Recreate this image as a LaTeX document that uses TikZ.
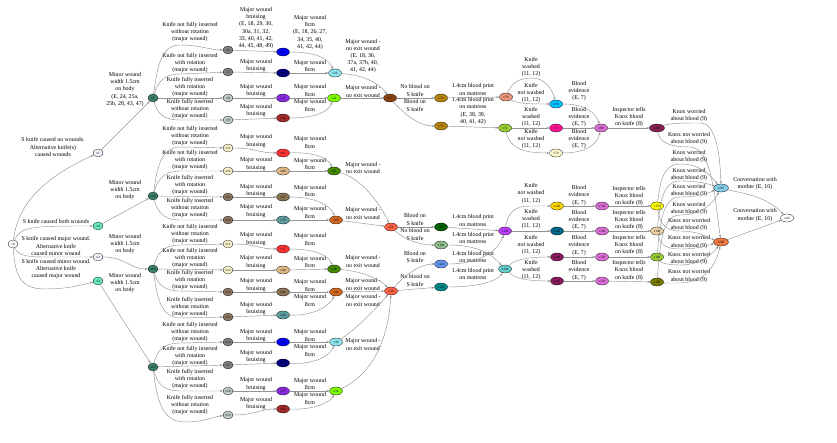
\documentclass[tikz,border=0pt]{standalone}
\usepackage{fontspec}
\setmainfont{Liberation Serif}
\usetikzlibrary{shapes.geometric,arrows.meta}
\newcommand{\lbf}{\fontsize{5.9}{7.2}\selectfont}
\newcommand{\nfs}{\fontsize{3.4}{3.4}\selectfont}
\definecolor{eg}{HTML}{939393}
\definecolor{cAlice}{HTML}{EEF2FA}
\definecolor{cAqua}{HTML}{66E8B8}
\definecolor{cSea}{HTML}{3B8266}
\definecolor{cGray}{HTML}{808080}
\definecolor{cLGray}{HTML}{C0C8C8}
\definecolor{cCream}{HTML}{F5F0C8}
\definecolor{cBrG}{HTML}{8B7660}
\definecolor{cBlue}{HTML}{0000FF}
\definecolor{cNavy}{HTML}{000080}
\definecolor{cBViolet}{HTML}{8A2BE2}
\definecolor{cBrown}{HTML}{A52A2A}
\definecolor{cRed}{HTML}{FF3333}
\definecolor{cTan}{HTML}{DEB887}
\definecolor{cBurl}{HTML}{8B7355}
\definecolor{cCadet}{HTML}{5F9EA0}
\definecolor{cCyan}{HTML}{8EE5EE}
\definecolor{cLime}{HTML}{7FFF00}
\definecolor{cDkGreen}{HTML}{458B00}
\definecolor{cChoc}{HTML}{D2691E}
\definecolor{cSaddle}{HTML}{8B4513}
\definecolor{cTomato}{HTML}{FF6347}
\definecolor{cGoldenrod}{HTML}{B8860B}
\definecolor{cDarkGreen}{HTML}{006400}
\definecolor{cDSG}{HTML}{8FBC8F}
\definecolor{cCorn}{HTML}{6495ED}
\definecolor{cTeal}{HTML}{008B8B}
\definecolor{cDSalmon}{HTML}{E9967A}
\definecolor{cYG}{HTML}{9ACD32}
\definecolor{cPurp}{HTML}{BF3EFF}
\definecolor{cMTurq}{HTML}{66CDCC}
\definecolor{cDSky}{HTML}{00BFFF}
\definecolor{cDPink}{HTML}{FF1493}
\definecolor{cLemon}{HTML}{FFFACD}
\definecolor{cGold}{HTML}{FFD700}
\definecolor{cDSB}{HTML}{00688B}
\definecolor{cMaroon}{HTML}{8B1C62}
\definecolor{cOrchid}{HTML}{DA70D6}
\definecolor{cVRed}{HTML}{8B2252}
\definecolor{cYellow}{HTML}{FFFF00}
\definecolor{cWheat}{HTML}{EBD3A5}
\definecolor{cOlive}{HTML}{7A7A00}
\definecolor{cSky}{HTML}{87CEEB}
\definecolor{cCoral}{HTML}{F47A42}
\begin{document}
\begin{tikzpicture}[x=1pt,y=-1pt,
  vn/.style={ellipse,draw=black,line width=0.3pt,minimum width=10pt,minimum height=8pt,inner sep=0pt,font=\nfs},
  vw/.style={vn,minimum width=13pt},
  lb/.style={align=center,inner sep=0pt,font=\lbf},
  e/.style={draw=eg,line width=0.45pt,-{Stealth[length=3pt,width=2.2pt]}}]
\useasboundingbox (0,0) rectangle (837,443);
% ---------- nodes ----------
\node[vn,fill=white] (v0) at (13,244) {v0};
\node[vn,fill=cAlice] (v1) at (98,153) {v1};
\node[vn,fill=cAqua] (v4) at (98,226) {v4};
\node[vn,fill=cAlice] (v2) at (98,257) {v2};
\node[vn,fill=cAqua] (v3) at (98,281) {v3};
\node[vn,fill=cSea] (v5) at (153,98) {v5};
\node[vn,fill=cSea] (v20) at (153,196) {v20};
\node[vn,fill=cSea] (v10) at (153,269) {v10};
\node[vn,fill=cSea] (v15) at (153,367) {v15};
% second column
\node[vn,fill=cGray] (v6) at (228,50) {v6};
\node[vn,fill=cGray] (v7) at (228,72) {v7};
\node[vn,fill=cLGray] (v8) at (228,98) {v8};
\node[vn,fill=cLGray] (v9) at (228,120) {v9};
\node[vn,fill=cCream] (v21) at (228,148) {v21};
\node[vn,fill=cCream] (v22) at (228,171) {v22};
\node[vn,fill=cBrG] (v23) at (228,197) {v23};
\node[vn,fill=cBrG] (v24) at (228,220) {v24};
\node[vn,fill=cCream] (v11) at (228,244) {v11};
\node[vn,fill=cCream] (v12) at (228,270) {v12};
\node[vn,fill=cBrG] (v13) at (228,292) {v13};
\node[vn,fill=cBrG] (v14) at (228,317) {v14};
\node[vn,fill=cGray] (v16) at (228,342) {v16};
\node[vn,fill=cGray] (v17) at (228,365) {v17};
\node[vn,fill=cLGray] (v18) at (228,391) {v18};
\node[vn,fill=cLGray] (v19) at (228,415) {v19};
% bruising column
\node[vw,fill=cBlue] (b1) at (283,52) {v25};
\node[vw,fill=cNavy] (b2) at (283,73) {v29};
\node[vw,fill=cBViolet] (b3) at (283,98) {v31};
\node[vw,fill=cBrown] (b4) at (283,118) {v34};
\node[vw,fill=cRed] (b5) at (283,153) {v61};
\node[vw,fill=cTan] (b6) at (283,171) {v68};
\node[vw,fill=cBurl] (b7) at (283,197) {v67};
\node[vw,fill=cCadet] (b8) at (283,220) {v70};
\node[vw,fill=cRed] (b9) at (283,249) {v37};
\node[vw,fill=cTan] (b10) at (283,270) {v40};
\node[vw,fill=cBurl] (b11) at (283,292) {v43};
\node[vw,fill=cCadet] (b12) at (283,315) {v46};
\node[vw,fill=cBlue] (b13) at (283,342) {v47};
\node[vw,fill=cNavy] (b14) at (283,363) {v50};
\node[vw,fill=cBViolet] (b15) at (283,391) {v55};
\node[vw,fill=cBrown] (b16) at (283,409) {v58};
% 8cm column
\node[vw,fill=cCyan] (c1) at (335,73) {v26};
\node[vw,fill=cLime] (c2) at (334,98) {v32};
\node[vw,fill=cDkGreen] (c3) at (334,171) {v62};
\node[vw,fill=cChoc] (c4) at (336,220) {v69};
\node[vw,fill=cDkGreen] (c5) at (334,269) {v38};
\node[vw,fill=cChoc] (c6) at (336,292) {v44};
\node[vw,fill=cCyan] (c7) at (336,342) {v30};
\node[vw,fill=cLime] (c8) at (336,391) {v36};
% no-exit column
\node[vw,fill=cSaddle] (d1) at (390,98) {v27};
\node[vw,fill=cTomato] (d2) at (391,227) {v63};
\node[vw,fill=cTomato] (d3) at (391,291) {v39};
% blood column
\node[vw,fill=cGoldenrod] (g1) at (441,98) {v74};
\node[vw,fill=cGoldenrod] (g2) at (441,126) {v73};
\node[vw,fill=cDarkGreen] (g3) at (441,227) {v117};
\node[vw,fill=cDSG] (g4) at (441,245) {v118};
\node[vw,fill=cCorn] (g5) at (441,264) {v121};
\node[vw,fill=cTeal] (g6) at (441,287) {v122};
% mattress column
\node[vw,fill=cDSalmon] (m1) at (506,97) {v76};
\node[vw,fill=cYG] (m2) at (505,128) {v71};
\node[vw,fill=cPurp] (m3) at (505,231) {v123};
\node[vw,fill=cMTurq] (m4) at (505,269) {v124};
% washed column
\node[vw,fill=cDSky] (w1) at (556,104) {v78};
\node[vw,fill=cDPink] (w2) at (556,128) {v77};
\node[vw,fill=cLemon] (w3) at (556,153) {v79};
\node[vw,fill=cGold] (w4) at (557,206) {v126};
\node[vw,fill=cDSB] (w5) at (557,231) {v125};
\node[vw,fill=cMaroon] (w6) at (557,257) {v128};
\node[vw,fill=cMaroon] (w7) at (557,281) {v127};
% evidence column
\node[vw,fill=cOrchid] (x1) at (601,128) {v80};
\node[vw,fill=cOrchid] (x2) at (602,206) {v130};
\node[vw,fill=cOrchid] (x3) at (602,231) {v129};
\node[vw,fill=cOrchid] (x4) at (602,257) {v132};
\node[vw,fill=cOrchid] (x5) at (602,281) {v131};
% inspector column
\node[vw,fill=cVRed,minimum width=15pt] (i1) at (657,128) {v266};
\node[vw,fill=cYellow] (i2) at (657,206) {v151};
\node[vw,fill=cWheat] (i3) at (657,231) {v148};
\node[vw,fill=cYG] (i4) at (657,257) {v160};
\node[vw,fill=cOlive] (i5) at (657,282) {v156};
% final
\node[vw,fill=cSky,minimum width=15pt] (k1) at (721,188) {v267};
\node[vw,fill=cCoral,minimum width=15pt] (k2) at (721,242) {v268};
\node[vw,fill=white] (vinf) at (787,218) {vinf};
% ---------- labels ----------
\node[lb] (l01) at (53,147) {S knife caused no wounds.\\Alternative knife(s)\\caused wounds};
\node[lb] (l04) at (56,221) {S knife caused both wounds};
\node[lb] (l02) at (56,246) {S knife caused major wound.\\Alternative knife\\caused minor wound};
\node[lb] (l03) at (56,269) {S knife caused minor wound.\\Alternative knife\\caused major wound};
\node[lb] (l15) at (125,89.5) {Minor wound\\width 1.5cm\\on body\\(E, 24, 25a,\\25b, 28, 43, 47)};
\node[lb] (l420) at (125,190) {Minor wound\\width 1.5cm\\on body};
\node[lb] (l210) at (125,244) {Minor wound\\width 1.5cm\\on body};
\node[lb] (l315) at (125,283) {Minor wound\\width 1.5cm\\on body};
% fan labels
\foreach \yy/\tt [count=\i] in {32/Knife not fully inserted\\without rotation\\(major wound),63/Knife not fully inserted\\with rotation\\(major wound),87/Knife fully inserted\\with rotation\\(major wound),109/Knife fully inserted\\without rotation\\(major wound),
136/Knife not fully inserted\\without rotation\\(major wound),160/Knife not fully inserted\\with rotation\\(major wound),185/Knife fully inserted\\with rotation\\(major wound),208/Knife fully inserted\\without rotation\\(major wound),
234/Knife not fully inserted\\without rotation\\(major wound),258/Knife not fully inserted\\with rotation\\(major wound),280/Knife fully inserted\\with rotation\\(major wound),307/Knife fully inserted\\without rotation\\(major wound),
332/Knife not fully inserted\\without rotation\\(major wound),356/Knife not fully inserted\\with rotation\\(major wound),379/Knife fully inserted\\with rotation\\(major wound),405/Knife fully inserted\\without rotation\\(major wound)}
  \node[lb] (lf\i) at (190,\yy) {\tt};
% bruising labels
\node[lb] (lb1) at (256,28) {Major wound\\bruising\\(E, 18, 29, 30,\\30a, 31, 32,\\33, 40, 41, 42,\\44, 45, 48, 49)};
\foreach \yy [count=\i from 2] in {65.5,90.5,110.5,141,164,190.5,211,239,262,285,308.5,335.5,356.5,384,403.5}
  \node[lb] (lb\i) at (256,\yy) {Major wound\\bruising};
% 8cm labels
\node[lb] (lc1) at (310,32.5) {Major wound\\8cm\\(E, 18, 26, 27,\\34, 35, 40,\\41, 42, 44)};
\foreach \yy [count=\i from 2] in {66,90.5,105.5,142.5,164,191,212.5,239.5,262,285.5,300.5,335.5,350.5,384,398.5}
  \node[lb] (lc\i) at (310,\yy) {Major wound\\8cm};
% no exit labels
\node[lb] (ld1) at (363,56) {Major wound -\\no exit wound\\(E, 18, 36,\\37a, 37b, 40,\\41, 42, 44)};
\foreach \yy [count=\i from 2] in {91.5,168,213.5,261.5,284.5,300.5,344.5}
  \node[lb] (ld\i) at (363,\yy) {Major wound -\\no exit wound};
% blood labels
\node[lb] (lg1) at (415,90.5) {No blood on\\S knife};
\node[lb] (lg2) at (415,105.5) {Blood on\\S knife};
\node[lb] (lg3) at (415,219.5) {Blood on\\S knife};
\node[lb] (lg4) at (415,234.5) {No blood on\\S knife};
\node[lb] (lg5) at (415,257) {Blood on\\S knife};
\node[lb] (lg6) at (415,280.5) {No blood on\\S knife};
% mattress labels
\node[lb] (lm1) at (473,89.5) {1.4cm blood print\\on mattress};
\node[lb] (lm2) at (473,111) {1.4cm blood print\\on mattress\\(E, 38, 39,\\40, 41, 42)};
\foreach \yy [count=\i from 3] in {220.5,238,257,274}
  \node[lb] (lm\i) at (473,\yy) {1.4cm blood print\\on mattress};
% washed labels
\foreach \yy/\tt [count=\i] in {67/washed,93/not washed,117/washed,139/not washed,193.5/not washed,219/washed,245/not washed,270/washed}
  \node[lb] (lw\i) at (531,\yy) {Knife\\\tt\\(11, 12)};
% evidence labels
\foreach \yy [count=\i] in {91,117,139,195.5,220,245.5,270.5}
  \node[lb] (lx\i) at (579,\yy) {Blood\\evidence\\(E, 7)};
% inspector labels
\foreach \yy [count=\i] in {117,196,220,245,270.5}
  \node[lb] (li\i) at (629,\yy) {Inspector tells\\Knox blood\\on knife (8)};
% knox labels
\foreach \yy/\tt [count=\i] in {115.5/worried,138.5/not worried,156.5/worried,174.5/worried,190.5/worried,208.5/worried,224.5/not worried,242/not worried,258.5/not worried,276/not worried}
  \node[lb] (lk\i) at (689,\yy) {Knox \tt\\about blood (9)};
\node[lb] (lv1) at (755,183.5) {Conversation with\\mother (E, 10)};
\node[lb] (lv2) at (755,215) {Conversation with\\mother (E, 10)};
% ---------- edges ----------
\draw[e] (v0) .. controls (18,200) and (50,175) .. (v1);
\draw[e] (v0) .. controls (20,226) and (35,226) .. (v4);
\draw[e] (v0) .. controls (18,255) and (25,257) .. (45,257) -- (v2);
\draw[e] (v0) .. controls (15,275) and (20,289) .. (45,289) .. controls (70,289) and (85,284) .. (v3);
\draw[e] (v1) -- (v5);
\draw[e] (v4) -- (v20);
\draw[e] (v2) .. controls (125,257) and (130,269) .. (v10);
\draw[e] (v3) -- (v15);
% fans
\draw[e] (v5) .. controls (157,70) and (160,45) .. (180,45) .. controls (200,45) and (210,50) .. (v6);
\draw[e] (v5) .. controls (157,85) and (162,74) .. (180,74) -- (v7);
\draw[e] (v5) -- (v8);
\draw[e] (v5) .. controls (157,112) and (162,120) .. (180,120) -- (v9);
\draw[e] (v20) .. controls (157,170) and (160,147) .. (180,147) -- (v21);
\draw[e] (v20) .. controls (157,182) and (162,171) .. (180,171) -- (v22);
\draw[e] (v20) -- (v23);
\draw[e] (v20) .. controls (157,210) and (162,220) .. (180,220) -- (v24);
\draw[e] (v10) .. controls (157,255) and (162,245) .. (180,245) -- (v11);
\draw[e] (v10) -- (v12);
\draw[e] (v10) .. controls (157,282) and (162,291) .. (180,291) -- (v13);
\draw[e] (v10) .. controls (157,295) and (160,318) .. (180,318) -- (v14);
\draw[e] (v15) .. controls (157,352) and (162,343) .. (180,343) -- (v16);
\draw[e] (v15) -- (v17);
\draw[e] (v15) .. controls (157,382) and (162,391) .. (180,391) -- (v18);
\draw[e] (v15) .. controls (157,400) and (162,422) .. (185,422) .. controls (205,422) and (212,417) .. (v19);
% bruising
\draw[e] (v6) -- (b1);
\draw[e] (v7) -- (b2);
\draw[e] (v8) -- (b3);
\draw[e] (v9) -- (b4);
\draw[e] (v21) .. controls (255,148) and (260,153) .. (b5);
\draw[e] (v22) -- (b6);
\draw[e] (v23) -- (b7);
\draw[e] (v24) -- (b8);
\draw[e] (v11) .. controls (255,244) and (260,249) .. (b9);
\draw[e] (v12) -- (b10);
\draw[e] (v13) -- (b11);
\draw[e] (v14) -- (b12);
\draw[e] (v16) -- (b13);
\draw[e] (v17) -- (b14);
\draw[e] (v18) -- (b15);
\draw[e] (v19) .. controls (255,415) and (260,409) .. (b16);
% 8cm
\draw[e] (b1) .. controls (315,52) and (328,58) .. (c1);
\draw[e] (b2) -- (c1);
\draw[e] (b3) -- (c2);
\draw[e] (b4) .. controls (315,118) and (328,112) .. (c2);
\draw[e] (b5) .. controls (315,152) and (328,158) .. (c3);
\draw[e] (b6) -- (c3);
\draw[e] (b7) .. controls (315,197) and (330,205) .. (c4);
\draw[e] (b8) -- (c4);
\draw[e] (b9) .. controls (315,249) and (328,255) .. (c5);
\draw[e] (b10) -- (c5);
\draw[e] (b11) -- (c6);
\draw[e] (b12) .. controls (315,316) and (330,305) .. (c6);
\draw[e] (b13) -- (c7);
\draw[e] (b14) .. controls (315,365) and (330,355) .. (c7);
\draw[e] (b15) -- (c8);
\draw[e] (b16) .. controls (315,410) and (330,402) .. (c8);
% no exit
\draw[e] (c1) .. controls (362,75) and (378,82) .. (d1);
\draw[e] (c2) -- (d1);
\draw[e] (c3) .. controls (360,178) and (378,200) .. (d2);
\draw[e] (c4) -- (d2);
\draw[e] (c5) .. controls (360,271) and (378,278) .. (d3);
\draw[e] (c6) -- (d3);
\draw[e] (c7) .. controls (355,330) and (375,310) .. (d3);
\draw[e] (c8) .. controls (365,378) and (388,350) .. (d3);
% blood
\draw[e] (d1) -- (g1);
\draw[e] (d1) .. controls (405,115) and (420,126) .. (g2);
\draw[e] (d2) -- (g3);
\draw[e] (d2) .. controls (405,240) and (420,245) .. (g4);
\draw[e] (d3) .. controls (405,275) and (420,264) .. (g5);
\draw[e] (d3) -- (g6);
% mattress
\draw[e] (g1) -- (m1);
\draw[e] (g2) -- (m2);
\draw[e] (g3) -- (m3);
\draw[e] (g4) .. controls (480,245) and (492,255) .. (m4);
\draw[e] (g5) .. controls (482,264) and (498,250) .. (m3);
\draw[e] (g6) .. controls (482,287) and (498,280) .. (m4);
% washed
\draw[e] (m1) .. controls (512,82) and (520,78) .. (532,78) .. controls (544,78) and (552,88) .. (w1);
\draw[e] (m1) .. controls (518,104) and (530,104) .. (w1);
\draw[e] (m2) -- (w2);
\draw[e] (m2) .. controls (510,148) and (522,153) .. (w3);
\draw[e] (m3) .. controls (508,212) and (515,206) .. (530,206) -- (w4);
\draw[e] (m3) -- (w5);
\draw[e] (m4) .. controls (515,260) and (525,257) .. (w6);
\draw[e] (m4) .. controls (515,278) and (525,281) .. (w7);
% evidence
\draw[e] (w1) .. controls (585,104) and (595,112) .. (x1);
\draw[e] (w2) -- (x1);
\draw[e] (w3) .. controls (585,153) and (597,145) .. (x1);
\draw[e] (w4) -- (x2);
\draw[e] (w5) -- (x3);
\draw[e] (w6) -- (x4);
\draw[e] (w7) -- (x5);
% inspector
\draw[e] (x1) -- (i1);
\draw[e] (x2) -- (i2);
\draw[e] (x3) -- (i3);
\draw[e] (x4) -- (i4);
\draw[e] (x5) -- (i5);
% knox
\draw[e] (i1) .. controls (670,123) and (685,123) .. (700,123) .. controls (715,123) and (720,150) .. (k1);
\draw[e] (i1) .. controls (660,142) and (668,147) .. (690,147) .. controls (712,147) and (715,200) .. (k2);
\draw[e] (i2) .. controls (660,185) and (662,164) .. (680,164) .. controls (700,164) and (710,175) .. (k1);
\draw[e] (i3) .. controls (660,205) and (662,181) .. (680,181) .. controls (700,181) and (708,184) .. (k1);
\draw[e] (i4) .. controls (660,225) and (662,197) .. (680,197) .. controls (700,197) and (708,193) .. (k1);
\draw[e] (i5) .. controls (660,245) and (662,215) .. (680,215) .. controls (700,215) and (712,205) .. (k1);
\draw[e] (i2) .. controls (660,220) and (662,231) .. (680,231) .. controls (700,231) and (708,238) .. (k2);
\draw[e] (i3) .. controls (660,242) and (662,249) .. (680,249) .. controls (700,249) and (708,245) .. (k2);
\draw[e] (i4) .. controls (660,262) and (665,265) .. (680,265) .. controls (700,265) and (712,255) .. (k2);
\draw[e] (i5) .. controls (662,283) and (665,283) .. (680,283) .. controls (705,283) and (716,265) .. (k2);
\draw[e] (k1) .. controls (740,193) and (765,195) .. (vinf);
\draw[e] (k2) -- (vinf);
\end{tikzpicture}
\end{document}
